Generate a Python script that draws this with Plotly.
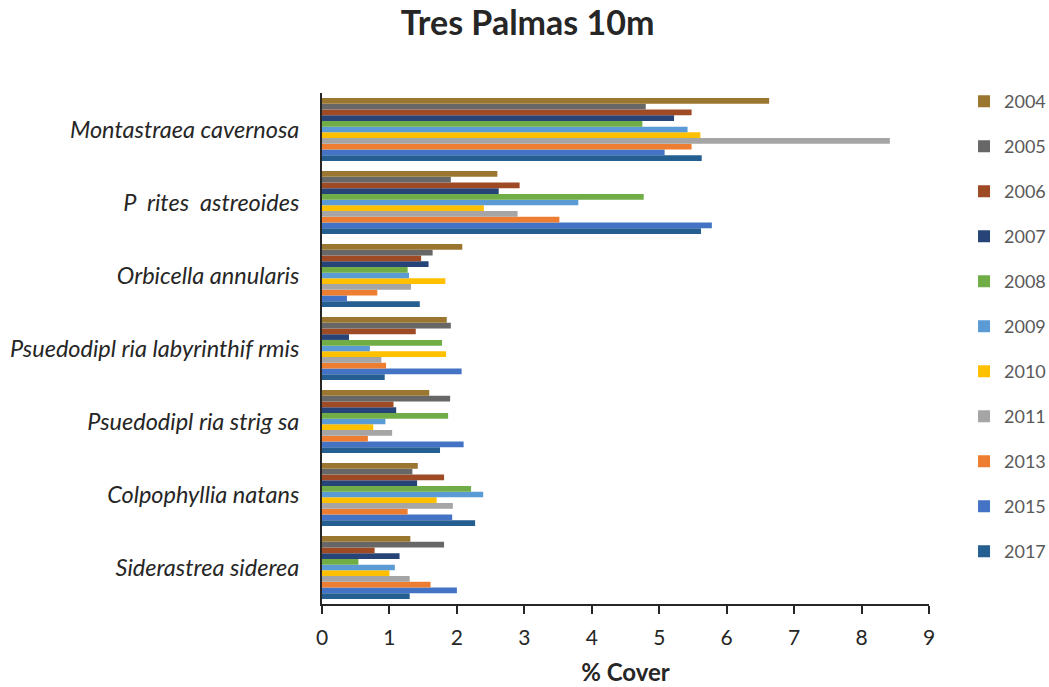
import plotly.graph_objects as go

species = [
    "Montastraea cavernosa",
    "P\u00a0\u00a0rites\u00a0\u00a0astreoides",
    "Orbicella annularis",
    "Psuedodipl\u00a0ria labyrinthif\u00a0rmis",
    "Psuedodipl\u00a0ria strig\u00a0sa",
    "Colpophyllia natans",
    "Siderastrea siderea",
]

years = ["2004", "2005", "2006", "2007", "2008", "2009", "2010", "2011", "2013", "2015", "2017"]

colors = ["#9A7630", "#676767", "#9E4A24", "#264478", "#70AD47", "#5B9BD5",
          "#FFC000", "#A5A5A5", "#ED7D31", "#4472C4", "#255E91"]

# % cover per year, same order as species
cover = {
    "2004": [6.63, 2.60, 2.08, 1.85, 1.59, 1.42, 1.31],
    "2005": [4.80, 1.91, 1.64, 1.91, 1.90, 1.34, 1.81],
    "2006": [5.48, 2.93, 1.47, 1.39, 1.06, 1.81, 0.78],
    "2007": [5.22, 2.62, 1.58, 0.40, 1.10, 1.41, 1.15],
    "2008": [4.75, 4.77, 1.27, 1.78, 1.87, 2.21, 0.54],
    "2009": [5.42, 3.80, 1.29, 0.71, 0.94, 2.39, 1.08],
    "2010": [5.61, 2.40, 1.83, 1.84, 0.76, 1.70, 1.00],
    "2011": [8.42, 2.90, 1.32, 0.88, 1.04, 1.94, 1.30],
    "2013": [5.48, 3.52, 0.82, 0.95, 0.68, 1.27, 1.61],
    "2015": [5.08, 5.78, 0.37, 2.07, 2.10, 1.93, 2.00],
    "2017": [5.63, 5.62, 1.45, 0.93, 1.75, 2.27, 1.30],
}

fig = go.Figure()
# add in reverse so 2004 sits at the top of each group
for rank, (yr, col) in reversed(list(enumerate(zip(years, colors)))):
    fig.add_trace(go.Bar(
        y=species, x=cover[yr], name=yr, orientation="h",
        marker=dict(color=col, line=dict(width=0)),
        legendgroup=yr, legendrank=rank + 1,
    ))

fig.update_layout(
    width=1049, height=687,
    paper_bgcolor="white", plot_bgcolor="white",
    margin=dict(l=322, r=120, t=93, b=83, autoexpand=False),
    barmode="group", bargap=0.14, bargroupgap=0,
    font=dict(family="Lato", color="#404040"),
    title=dict(text="<b>Tres Palmas 10m</b>", x=0.503, xanchor="center",
               y=0.966, yanchor="middle",
               font=dict(size=34, color="#262626")),
    legend=dict(traceorder="grouped", xref="container", yref="container",
                x=0.919, xanchor="left", y=0.879, yanchor="top",
                font=dict(size=18, color="#595959"), tracegroupgap=18.6,
                itemwidth=30, maxheight=620),
    showlegend=True,
)
fig.update_xaxes(
    range=[0, 9], dtick=1, showgrid=False, zeroline=False, automargin=False,
    showline=True, linecolor="#262626", linewidth=2,
    ticks="outside", ticklen=8, tickcolor="#262626", tickwidth=1.5,
    tickfont=dict(size=21, color="#262626"), ticklabelstandoff=6,
    title=dict(text="<b>% Cover</b>", font=dict(size=24, color="#262626"), standoff=16),
)
fig.update_yaxes(
    categoryorder="array", categoryarray=list(reversed(species)), automargin=False,
    showgrid=False, showline=True, linecolor="#262626", linewidth=2,
    ticks="", ticklabelstandoff=16,
    tickfont=dict(size=23.5, color="#262626", style="italic"),
)

# drop the page's default body margin so the figure sits at the window corner
fig.write_html("out.html", config={"displayModeBar": False},
               post_script="document.body.style.margin='0';")
